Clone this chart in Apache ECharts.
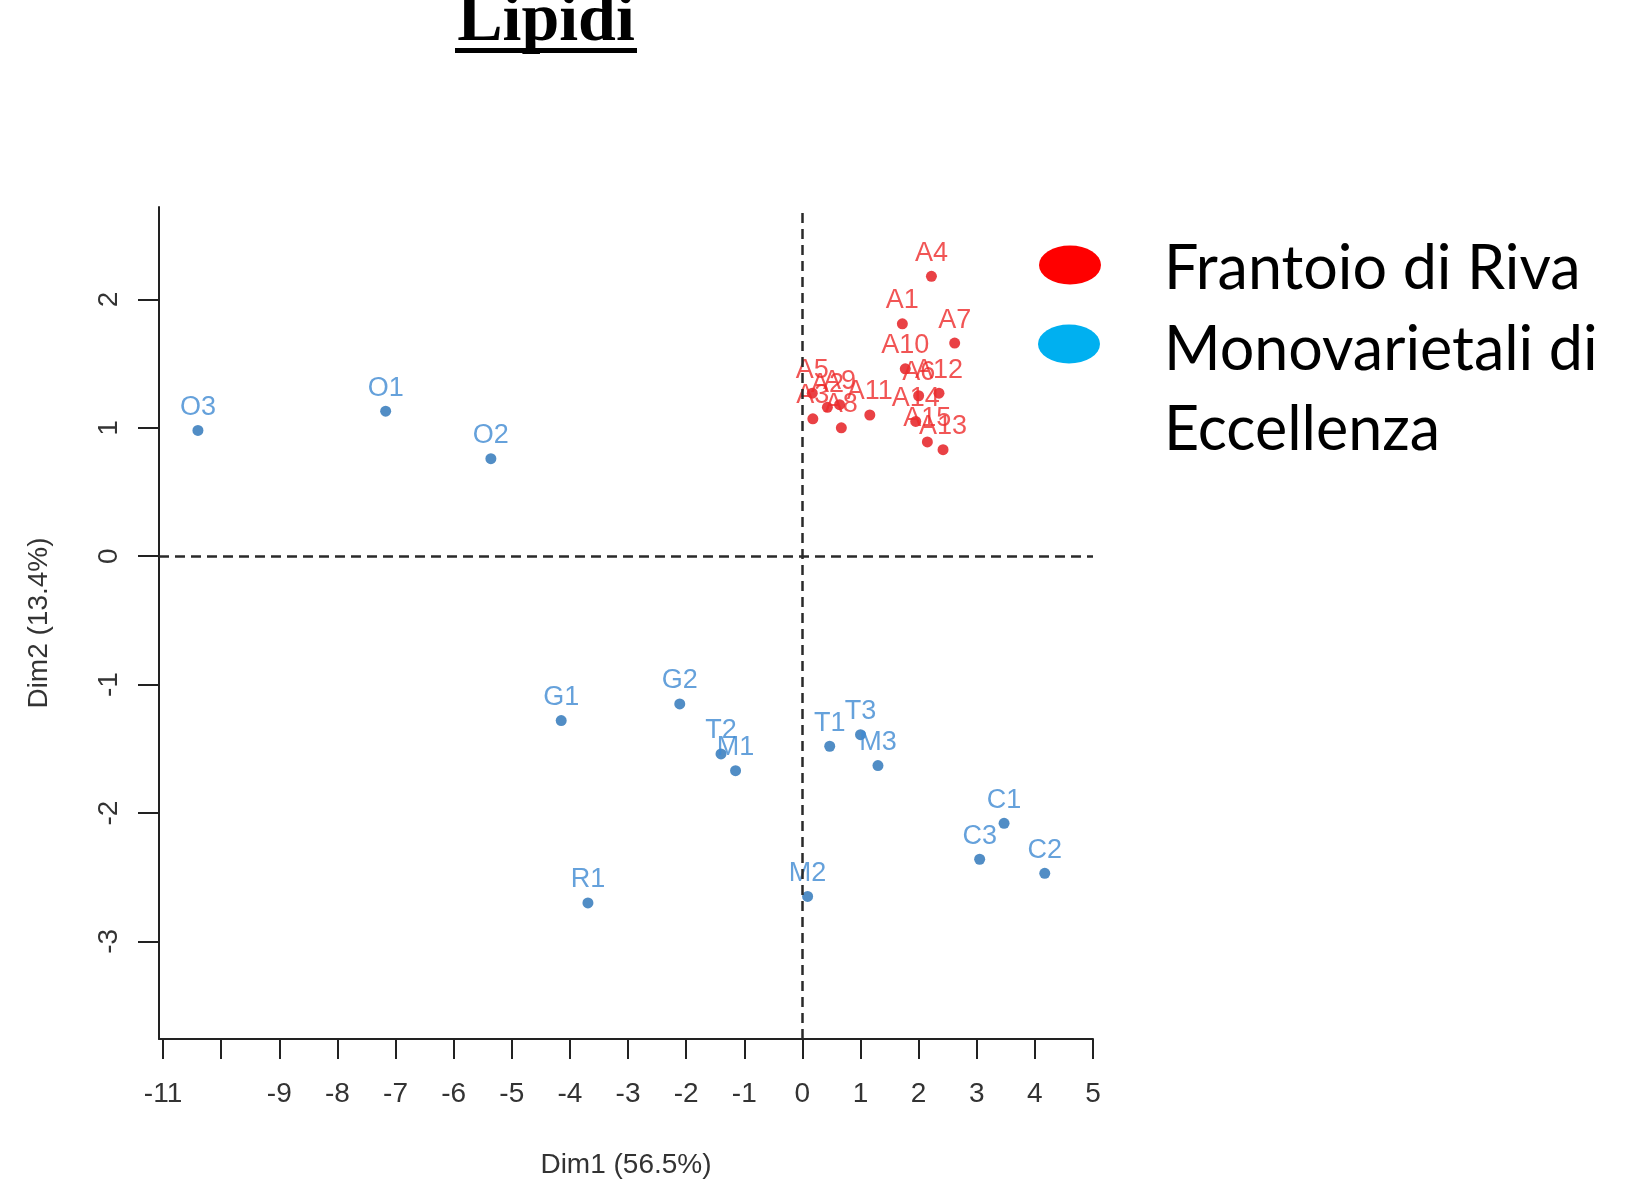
<!DOCTYPE html>
<html>
<head>
<meta charset="utf-8">
<script src="https://cdn.jsdelivr.net/npm/echarts@6/dist/echarts.min.js"></script>
<style>
  html, body { margin: 0; padding: 0; background: #ffffff; }
  #chart { width: 1625px; height: 1184px; }
</style>
</head>
<body>
<div id="chart"></div>
<script>
// PCA individual scores on the first two dimensions (lipid profile)

// Frantoio di Riva samples
const rivaNames = ['A1', 'A2', 'A3', 'A4', 'A5', 'A6', 'A7', 'A8', 'A9', 'A10', 'A11', 'A12', 'A13', 'A14', 'A15'];
const rivaDim1  = [1.72, 0.43, 0.18, 2.22, 0.17, 2.00, 2.62, 0.67, 0.64, 1.77, 1.16, 2.35, 2.42, 1.95, 2.15];
const rivaDim2  = [1.81, 1.16, 1.07, 2.18, 1.27, 1.25, 1.66, 1.00, 1.18, 1.46, 1.10, 1.27, 0.83, 1.05, 0.89];

// Monovarietal oils
const monoNames = ['O1', 'O2', 'O3', 'G1', 'G2', 'T1', 'T2', 'T3', 'M1', 'M2', 'M3', 'R1', 'C1', 'C2', 'C3'];
const monoDim1  = [-7.17, -5.36, -10.40, -4.15, -2.11, 0.47, -1.40, 1.00, -1.15, 0.09, 1.30, -3.69, 3.47, 4.17, 3.05];
const monoDim2  = [1.13, 0.76, 0.98, -1.28, -1.15, -1.48, -1.54, -1.39, -1.67, -2.65, -1.63, -2.70, -2.08, -2.47, -2.36];

// Axis ticks and the labels printed under them
const xTickValues  = [-11, -10, -9, -8, -7, -6, -5, -4, -3, -2, -1, 0, 1, 2, 3, 4, 5];
const xLabelValues = [-11, -9, -8, -7, -6, -5, -4, -3, -2, -1, 0, 1, 2, 3, 4, 5];
const yTickValues  = [-3, -2, -1, 0, 1, 2];

const seriesNames = ['Frantoio di Riva', 'Monovarietali di Eccellenza'];

function points(names, xs, ys) {
  return names.map((n, i) => ({ name: n, value: [xs[i], ys[i]] }));
}

const axisFont = '"Liberation Sans", Arial, sans-serif';
const axisColor = '#222';
const legendFont = '61px Lato, "Noto Sans", sans-serif';

const chart = echarts.init(document.getElementById('chart'), null, { renderer: 'canvas' });

chart.setOption({
  animation: false,
  backgroundColor: '#ffffff',
  grid: { left: 159, top: 207, width: 934, height: 837, containLabel: false },
  xAxis: {
    type: 'value',
    min: -11.07,
    max: 5,
    splitLine: { show: false },
    axisLine: { show: true, onZero: false, lineStyle: { color: axisColor, width: 2 } },
    axisTick: { show: true, customValues: xTickValues, length: 20, lineStyle: { color: axisColor, width: 2 } },
    axisLabel: {
      customValues: xLabelValues, margin: 41,
      fontFamily: axisFont, fontSize: 28, color: '#333'
    },
    name: 'Dim1 (56.5%)',
    nameLocation: 'middle',
    nameGap: 112,
    nameTextStyle: { fontFamily: axisFont, fontSize: 28, color: '#333' }
  },
  yAxis: {
    type: 'value',
    min: -3.76,
    max: 2.72,
    splitLine: { show: false },
    axisLine: { show: true, onZero: false, lineStyle: { color: axisColor, width: 2 } },
    axisTick: { show: true, customValues: yTickValues, length: 21, lineStyle: { color: axisColor, width: 2 } },
    axisLabel: {
      customValues: yTickValues, rotate: 90, margin: 36,
      fontFamily: axisFont, fontSize: 28, color: '#333'
    },
    name: 'Dim2 (13.4%)',
    nameLocation: 'middle',
    nameRotate: 90,
    nameGap: 106,
    nameTextStyle: { fontFamily: axisFont, fontSize: 28, color: '#333' }
  },
  series: [
    {
      name: seriesNames[1],
      type: 'scatter',
      symbol: 'circle',
      symbolSize: 11,
      itemStyle: { color: '#2670b6' },
      label: {
        show: true, position: 'top', distance: 4, formatter: '{b}',
        fontFamily: axisFont, fontSize: 27, color: '#3f8ad2'
      },
      labelLayout: { hideOverlap: false },
      markLine: {
        silent: true,
        symbol: ['none', 'none'],
        label: { show: false },
        lineStyle: { color: '#2a2a2a', width: 2.5, type: [10, 6] },
        data: [{ xAxis: 0 }, { yAxis: 0 }]
      },
      data: points(monoNames, monoDim1, monoDim2)
    },
    {
      name: seriesNames[0],
      type: 'scatter',
      symbol: 'circle',
      symbolSize: 11,
      itemStyle: { color: '#e41216' },
      label: {
        show: true, position: 'top', distance: 4, formatter: '{b}',
        fontFamily: axisFont, fontSize: 27, color: '#ee2a2a'
      },
      labelLayout: { hideOverlap: false },
      data: points(rivaNames, rivaDim1, rivaDim2)
    }
  ],
  graphic: [
    // title with underline
    {
      type: 'text', x: 546, y: 22,
      style: {
        text: 'Lipidi', fill: '#000',
        font: 'bold 68px "Liberation Serif", "Times New Roman", serif',
        align: 'center', verticalAlign: 'middle'
      }
    },
    { type: 'rect', shape: { x: 455, y: 48, width: 182, height: 5 }, style: { fill: '#000' } },
    // legend
    { type: 'circle', x: 1070, y: 265, scaleY: 0.63, shape: { cx: 0, cy: 0, r: 31 }, style: { fill: '#ff0000' } },
    { type: 'circle', x: 1069, y: 344, scaleY: 0.63, shape: { cx: 0, cy: 0, r: 31 }, style: { fill: '#00b0f0' } },
    {
      type: 'text', x: 1164, y: 269,
      style: { text: seriesNames[0], fill: '#000', font: legendFont, align: 'left', verticalAlign: 'middle' }
    },
    {
      type: 'text', x: 1164, y: 350,
      style: { text: 'Monovarietali di', fill: '#000', font: legendFont, align: 'left', verticalAlign: 'middle' }
    },
    {
      type: 'text', x: 1164, y: 430,
      style: { text: 'Eccellenza', fill: '#000', font: legendFont, align: 'left', verticalAlign: 'middle' }
    }
  ]
});
</script>
</body>
</html>
